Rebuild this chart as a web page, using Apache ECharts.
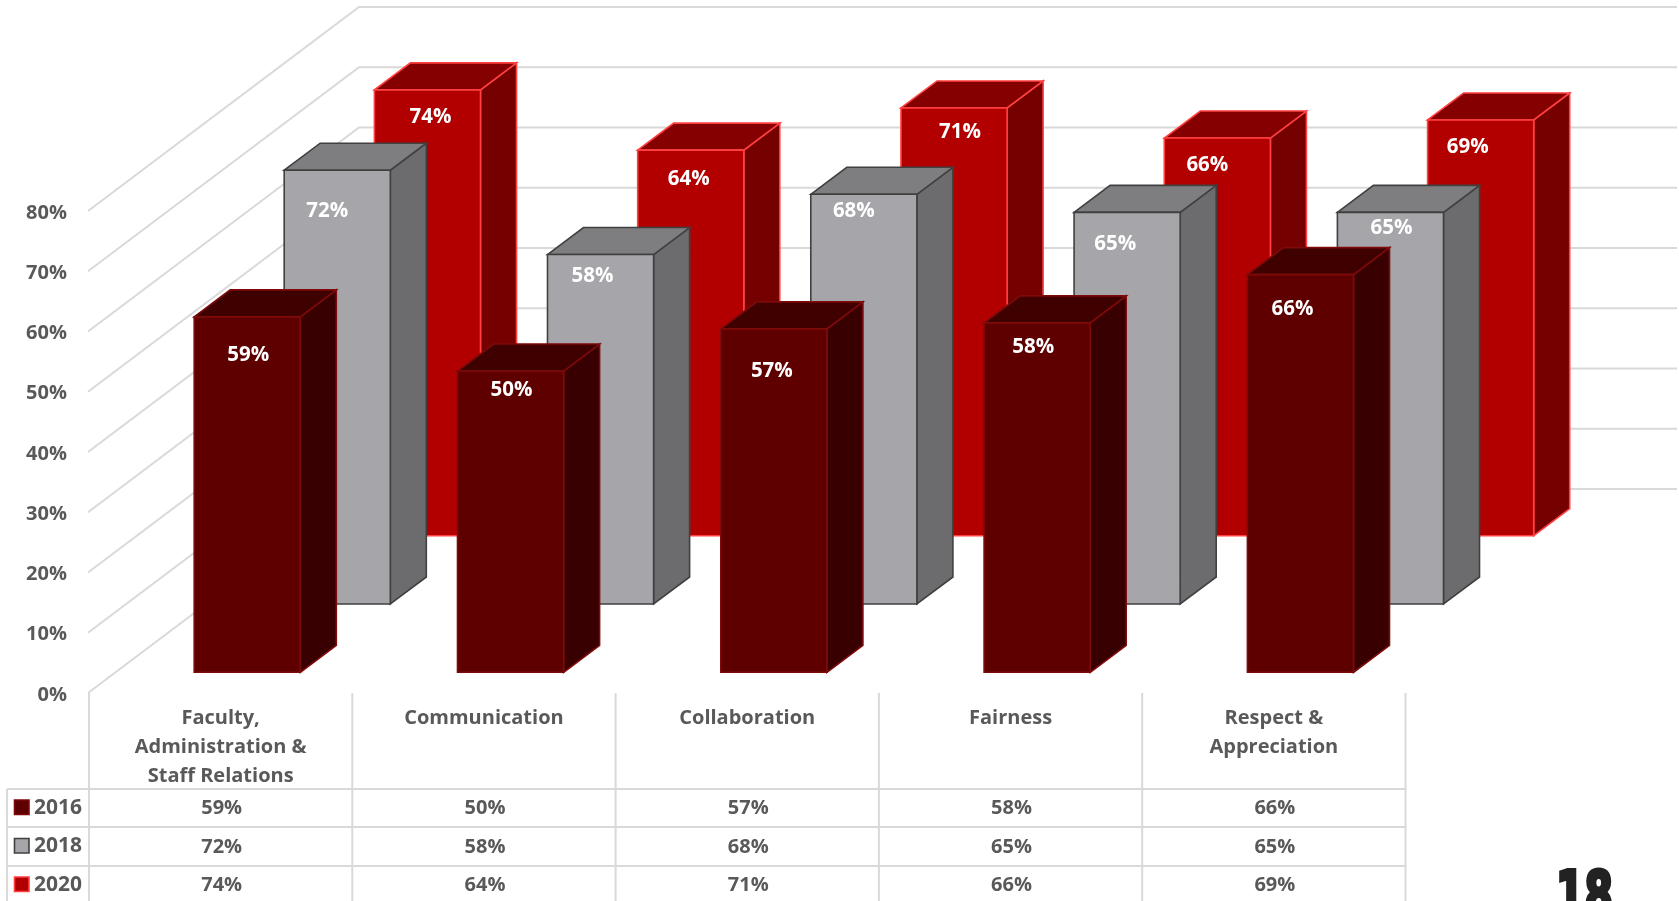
<!DOCTYPE html>
<html>
<head>
<meta charset="utf-8">
<script src="https://cdn.jsdelivr.net/npm/echarts@6/dist/echarts.min.js"></script>
<style>html,body{margin:0;padding:0;background:#fff;overflow:hidden}#c{width:1679px;height:901px}</style>
</head>
<body>
<div id="c"></div>
<script>
const categories = ['Faculty,\nAdministration &\nStaff Relations', 'Communication', 'Collaboration', 'Fairness', 'Respect &\nAppreciation'];
const years = ['2016', '2018', '2020'];
const values2016 = [59, 50, 57, 58, 66];
const values2018 = [72, 58, 68, 65, 65];
const values2020 = [74, 64, 71, 66, 69];
const yTicks = [0, 10, 20, 30, 40, 50, 60, 70, 80];

const FONT = '"Open Sans","Noto Sans",sans-serif';
const TEXT = '#595959';
const GRID_LINE = '#D9D9D9';
const WALL_DX = 271, WALL_DY = 204, WALL_RIGHT = 1677;
const BAR_DEPTH_X = 36, BAR_DEPTH_Y = 27, BAR_RATIO = 0.403;
const ROW_LINES = [789, 827, 866];
const ROW_TEXT = [808.5, 847, 885.5];

const looks = [
  {shiftX: 26.6,  shiftY: 20.7,  front: '#5E0000', side: '#380000', top: '#3F0000', edge: '#7E0A0A',
   nudgeX: [1, 1, -2, -4, -8],     nudgeY: [38, 19, 42, 24, 35]},
  {shiftX: 116.6, shiftY: 89,    front: '#A6A5AA', side: '#6C6C6E', top: '#7E7E80', edge: '#404040',
   nudgeX: [-10, -8, -10, -12, 1], nudgeY: [41, 22, 17, 32, 16]},
  {shiftX: 206.8, shiftY: 157.3, front: '#B20000', side: '#740000', top: '#850000', edge: '#FF4040',
   nudgeX: [3, -2, 6, -10, -13],   nudgeY: [27, 29, 24, 27, 27]}
];

function barRenderer(look) {
  return function (params, api) {
    const i = api.value(0), v = api.value(1);
    const topPt = api.coord([i, v]), basePt = api.coord([i, 0]);
    const w = api.size([1, 0])[0] * BAR_RATIO;
    const x0 = topPt[0] + look.shiftX - w / 2, x1 = x0 + w;
    const yT = topPt[1] - look.shiftY, yB = basePt[1] - look.shiftY;
    const dx = BAR_DEPTH_X, dy = BAR_DEPTH_Y;
    const stroke = {stroke: look.edge, lineWidth: 1.6, lineJoin: 'miter'};
    return {type: 'group', silent: true, children: [
      {type: 'polygon', shape: {points: [[x1, yT], [x1 + dx, yT - dy], [x1 + dx, yB - dy], [x1, yB]]}, style: Object.assign({fill: look.side}, stroke)},
      {type: 'polygon', shape: {points: [[x0, yT], [x0 + dx, yT - dy], [x1 + dx, yT - dy], [x1, yT]]}, style: Object.assign({fill: look.top}, stroke)},
      {type: 'polygon', shape: {points: [[x0, yT], [x1, yT], [x1, yB], [x0, yB]]}, style: Object.assign({fill: look.front}, stroke)},
      {type: 'text', style: {x: (x0 + x1) / 2 + look.nudgeX[i], y: yT + look.nudgeY[i], text: v + '%', fill: '#fff',
        font: 'bold 20.5px ' + FONT, align: 'center', verticalAlign: 'middle'}}
    ]};
  };
}

const grey = {stroke: GRID_LINE, lineWidth: 2};
const yearValues = [values2016, values2018, values2020];

const option = {
  animation: false,
  backgroundColor: '#fff',
  grid: {left: 89, top: 211, width: 1316.5, height: 482, containLabel: false, outerBoundsMode: 'none'},
  xAxis: {type: 'category', data: categories, axisLine: {show: false}, axisTick: {show: false}, splitLine: {show: false},
    axisLabel: {interval: 0, margin: 11, color: TEXT, fontFamily: FONT, fontWeight: 'bold', fontSize: 20, lineHeight: 29, verticalAlign: 'top', align: 'center'}},
  yAxis: {type: 'value', min: 0, max: 80, interval: 10, axisLine: {show: false}, axisTick: {show: false}, splitLine: {show: false},
    axisLabel: {margin: 22, color: TEXT, formatter: '{v|{value}%}',
      rich: {v: {color: TEXT, fontFamily: FONT, fontWeight: 'bold', fontSize: 20, padding: [4, 0, 0, 0]}}}},
  graphic: [{type: 'text', x: 1556, y: 868, originX: 0, originY: 0, scaleX: 0.71, z: 5, silent: true,
    style: {x: 0, y: 0, text: '18', fill: '#222', stroke: '#222', lineWidth: 4, font: 'bold 64px "DejaVu Sans Condensed","DejaVu Sans",sans-serif'}}],
  series: [
    {name: 'Walls', type: 'custom', z: 1, silent: true, data: yTicks.map(t => [0, t]),
     renderItem(params, api) {
       const p = api.coord([0, api.value(1)]);
       const x = params.coordSys.x - 1, y = p[1];
       return {type: 'polyline', silent: true, shape: {points: [[x, y], [x + WALL_DX, y - WALL_DY], [WALL_RIGHT, y - WALL_DY]]}, style: Object.assign({fill: null}, grey)};
     }},
    {name: '2020', type: 'custom', z: 2, data: values2020.map((v, i) => [i, v]), renderItem: barRenderer(looks[2])},
    {name: '2018', type: 'custom', z: 3, data: values2018.map((v, i) => [i, v]), renderItem: barRenderer(looks[1])},
    {name: '2016', type: 'custom', z: 4, data: values2016.map((v, i) => [i, v]), renderItem: barRenderer(looks[0])},
    {name: 'Table frame', type: 'custom', z: 1, silent: true, data: [0, 1, 2, 3, 4, 5].map(k => [k, 0]),
     renderItem(params, api) {
       const k = api.value(0);
       const x = params.coordSys.x + k * params.coordSys.width / categories.length;
       return {type: 'line', silent: true, shape: {x1: x, y1: params.coordSys.y + params.coordSys.height, x2: x, y2: 901}, style: grey};
     }},
    {name: 'Data table', type: 'custom', z: 1, silent: true, data: years.map((y, r) => [r, 0]),
     renderItem(params, api) {
       const r = api.value(0), look = looks[r], cs = params.coordSys;
       const y = ROW_TEXT[r];
       const kids = [
         {type: 'line', shape: {x1: 7, y1: ROW_LINES[r], x2: cs.x + cs.width, y2: ROW_LINES[r]}, style: grey},
         {type: 'line', shape: {x1: 7, y1: ROW_LINES[r], x2: 7, y2: r === 2 ? 901 : ROW_LINES[r + 1]}, style: grey},
         {type: 'rect', shape: {x: 14.5, y: y - 8.5, width: 14.5, height: 14.5}, style: {fill: look.front, stroke: look.edge, lineWidth: 1.6}},
         {type: 'text', style: {x: 34, y: y - 0.5, text: years[r], fill: TEXT, font: 'bold 21px ' + FONT, align: 'left', verticalAlign: 'middle'}}
       ];
       yearValues[r].forEach((v, i) => {
         kids.push({type: 'text', style: {x: api.coord([i, 0])[0] + 1, y: y, text: v + '%', fill: TEXT, font: 'bold 20px ' + FONT, align: 'center', verticalAlign: 'middle'}});
       });
       return {type: 'group', silent: true, children: kids};
     }}
  ]
};
echarts.init(document.getElementById('c'), null, {renderer: 'canvas'}).setOption(option);
</script>
</body>
</html>
